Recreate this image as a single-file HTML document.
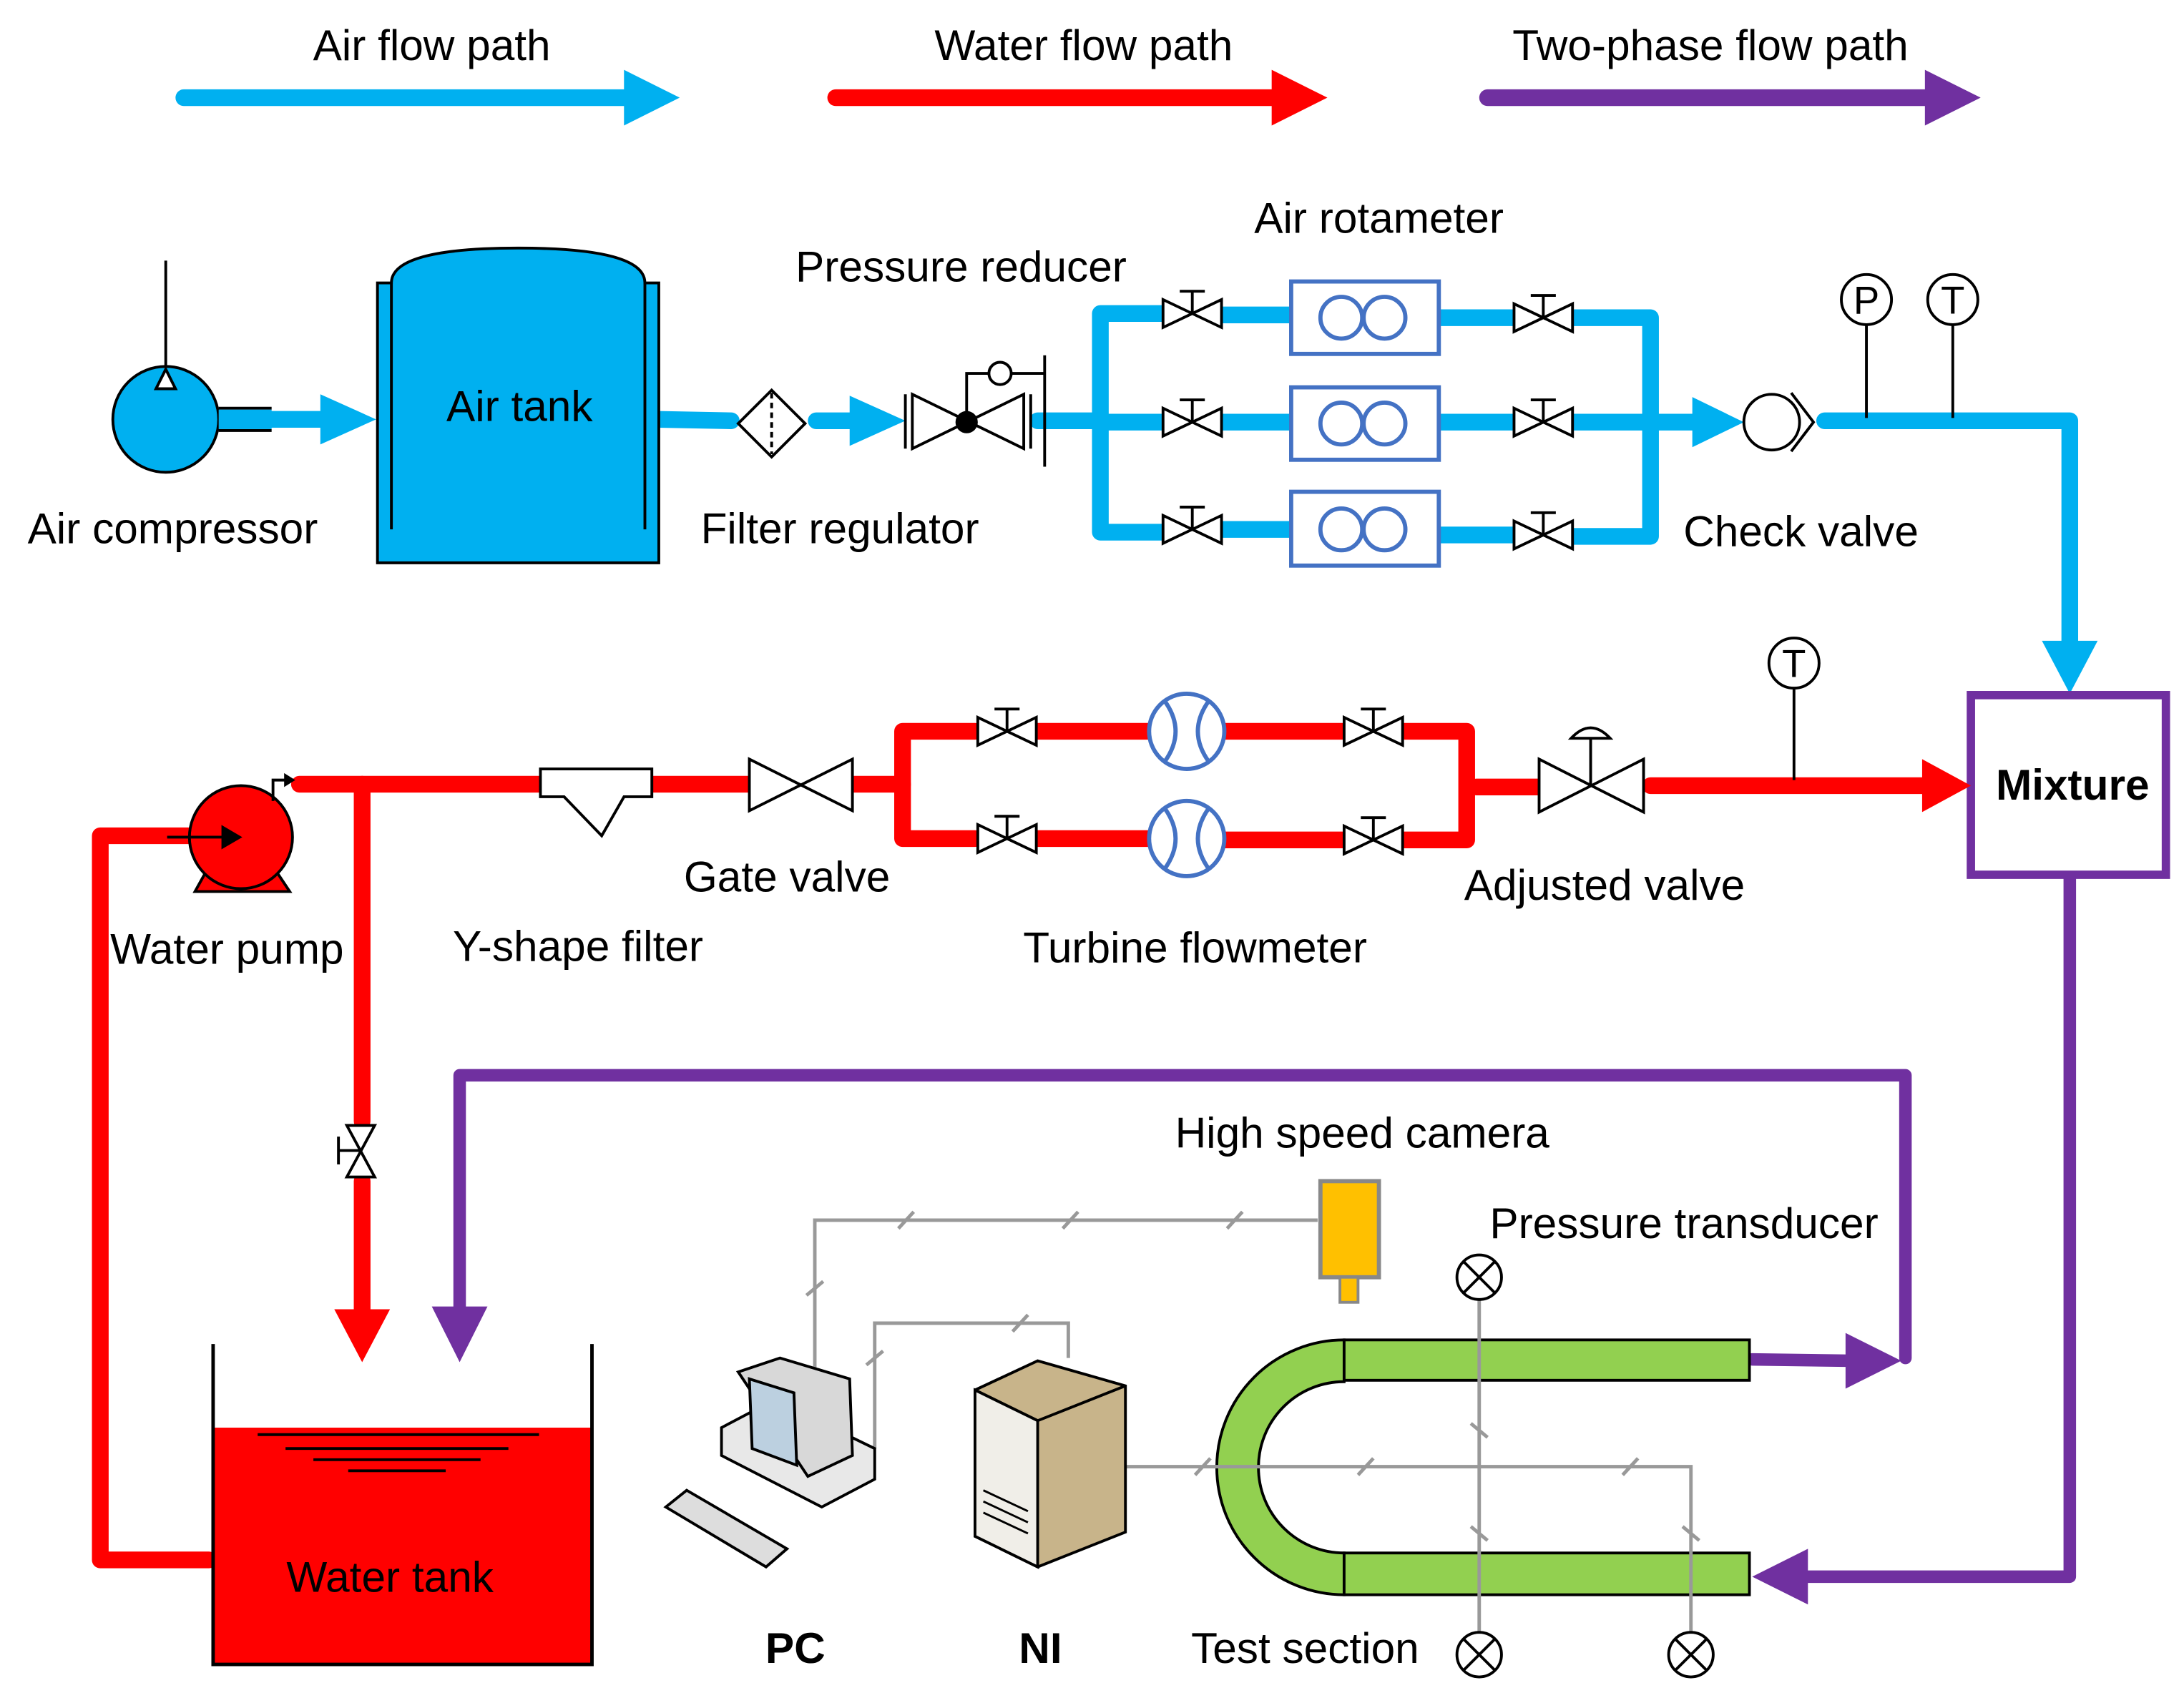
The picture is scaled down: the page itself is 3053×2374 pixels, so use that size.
<!DOCTYPE html>
<html><head><meta charset="utf-8"><style>
html,body{margin:0;padding:0;background:#fff}
svg{display:block}
text{font-family:"Liberation Sans",sans-serif;font-size:31px;fill:#000}
</style></head><body>
<svg width="3053" height="2374" viewBox="0 0 1568 1219" xmlns="http://www.w3.org/2000/svg">
<defs>
<g id="v"><path d="M-21,-10 L21,10 L21,-10 L-21,10 Z" fill="#fff" stroke="#000" stroke-width="2"/><line x1="0" y1="0" x2="0" y2="-16" stroke="#000" stroke-width="2"/><line x1="-9" y1="-16" x2="9" y2="-16" stroke="#000" stroke-width="2"/></g>
<g id="ot"><circle r="16" fill="#fff" stroke="#000" stroke-width="2"/><path d="M-11,-11 L11,11 M11,-11 L-11,11" stroke="#000" stroke-width="2"/></g>
</defs>
<!-- legend -->
<text x="310" y="43" text-anchor="middle">Air flow path</text>
<text x="778" y="43" text-anchor="middle">Water flow path</text>
<text x="1228" y="43" text-anchor="middle">Two-phase flow path</text>
<line x1="132" y1="70" x2="455" y2="70" stroke="#00b0f0" stroke-width="12" stroke-linecap="round"/><path d="M448,50 L488,70 L448,90 Z" fill="#00b0f0"/>
<line x1="600" y1="70" x2="918" y2="70" stroke="#f00" stroke-width="12" stroke-linecap="round"/><path d="M913,50 L953,70 L913,90 Z" fill="#f00"/>
<line x1="1068" y1="70" x2="1388" y2="70" stroke="#7030a0" stroke-width="12" stroke-linecap="round"/><path d="M1382,50 L1422,70 L1382,90 Z" fill="#7030a0"/>

<!-- air -->
<g stroke="#00b0f0" stroke-width="12" fill="none" stroke-linecap="round" stroke-linejoin="round">
<line x1="195" y1="301" x2="235" y2="301"/>
<line x1="473" y1="301" x2="525" y2="302"/>
<line x1="586" y1="302" x2="615" y2="302"/>
<line x1="745" y1="302" x2="790" y2="302"/>
<path d="M840,225 H790 V382 H840"/><line x1="790" y1="303" x2="840" y2="303"/>
<line x1="874" y1="226" x2="927" y2="226"/><line x1="874" y1="303" x2="927" y2="303"/><line x1="874" y1="380" x2="927" y2="380"/>
<line x1="1033" y1="228" x2="1090" y2="228"/><line x1="1033" y1="303" x2="1090" y2="303"/><line x1="1033" y1="384" x2="1090" y2="384"/>
<path d="M1126,228 H1185 V385 H1126"/><line x1="1126" y1="303" x2="1220" y2="303"/>
<path d="M1310,302 H1486 V465"/>
</g>
<path d="M230,283 L270,301 L230,319 Z" fill="#00b0f0"/>
<path d="M610,284 L650,302 L610,320 Z" fill="#00b0f0"/>
<path d="M1215,285 L1252,303 L1215,321 Z" fill="#00b0f0"/>
<path d="M1466,460 L1486,498 L1506,460 Z" fill="#00b0f0"/>
<!-- compressor -->
<line x1="119" y1="187" x2="119" y2="265" stroke="#000" stroke-width="2"/>
<circle cx="119" cy="301" r="38" fill="#00b0f0" stroke="#000" stroke-width="2"/>
<path d="M112,279 L119,265 L126,279 Z" fill="#fff" stroke="#000" stroke-width="2"/>
<path d="M157,293 H195 M157,309 H195" stroke="#000" stroke-width="2"/>
<rect x="157" y="294" width="38" height="14" fill="#00b0f0"/>
<text x="124" y="390" text-anchor="middle">Air compressor</text>
<!-- tank -->
<path d="M271,203 H281 Q281,178 372,178 Q463,178 463,203 H473 V404 H271 Z" fill="#00b0f0" stroke="#000" stroke-width="2"/>
<path d="M281,203 V380 M463,203 V380" stroke="#000" stroke-width="2"/>
<text x="373" y="302" text-anchor="middle">Air tank</text>
<!-- filter -->
<path d="M554,280 L578,304 L554,328 L530,304 Z" fill="#fff" stroke="#000" stroke-width="2"/>
<line x1="554" y1="282" x2="554" y2="326" stroke="#000" stroke-width="2" stroke-dasharray="4,3"/>
<text x="603" y="390" text-anchor="middle">Filter regulator</text>
<!-- reducer -->
<path d="M655,283 L735,322 L735,283 L655,322 Z" fill="#fff" stroke="#000" stroke-width="2"/>
<path d="M650,283 V322 M740,283 V322" stroke="#000" stroke-width="2"/>
<circle cx="694" cy="303" r="8" fill="#000"/>
<path d="M694,303 V268 H710 M726,268 H750 M750,255 V335" stroke="#000" stroke-width="2" fill="none"/>
<circle cx="718" cy="268" r="8" fill="#fff" stroke="#000" stroke-width="2"/>
<text x="690" y="202" text-anchor="middle">Pressure reducer</text>
<!-- valves and rotameters -->
<use href="#v" x="856" y="225"/><use href="#v" x="856" y="303"/><use href="#v" x="856" y="380"/>
<use href="#v" x="1108" y="228"/><use href="#v" x="1108" y="303"/><use href="#v" x="1108" y="384"/>
<g fill="#fff" stroke="#4472c4" stroke-width="3">
<rect x="927" y="202" width="106" height="52"/><rect x="927" y="278" width="106" height="52"/><rect x="927" y="353" width="106" height="53"/>
<circle cx="963" cy="228" r="15"/><circle cx="994" cy="228" r="15"/>
<circle cx="963" cy="304" r="15"/><circle cx="994" cy="304" r="15"/>
<circle cx="963" cy="380" r="15"/><circle cx="994" cy="380" r="15"/>
</g>
<text x="990" y="167" text-anchor="middle">Air rotameter</text>
<!-- check valve -->
<circle cx="1272" cy="303" r="20" fill="#fff" stroke="#000" stroke-width="2"/>
<path d="M1286,282 L1302,303 L1286,324" fill="none" stroke="#000" stroke-width="2"/>
<text x="1293" y="392" text-anchor="middle">Check valve</text>
<path d="M1340,233 V300 M1402,233 V300" stroke="#000" stroke-width="2"/>
<circle cx="1340" cy="215" r="18" fill="#fff" stroke="#000" stroke-width="2"/><text x="1340" y="225" text-anchor="middle" style="font-size:28px">P</text>
<circle cx="1402" cy="215" r="18" fill="#fff" stroke="#000" stroke-width="2"/><text x="1402" y="225" text-anchor="middle" style="font-size:28px">T</text>

<!-- mixture -->
<rect x="1415" y="499" width="140" height="129" fill="#fff" stroke="#7030a0" stroke-width="6"/>
<text x="1488" y="574" text-anchor="middle" font-weight="bold">Mixture</text>

<!-- water -->
<g stroke="#f00" stroke-width="12" fill="none" stroke-linecap="round" stroke-linejoin="round">
<line x1="1185" y1="564" x2="1385" y2="564"/>
<line x1="1060" y1="565" x2="1105" y2="565"/>
<path d="M1005,525 H1053 V603 H1005"/>
<path d="M700,525 H648 V602 H700"/>
<line x1="745" y1="525" x2="825" y2="525"/><line x1="878" y1="525" x2="965" y2="525"/>
<line x1="745" y1="602" x2="825" y2="602"/><line x1="878" y1="603" x2="965" y2="603"/>
<line x1="612" y1="563" x2="648" y2="563"/>
<line x1="468" y1="563" x2="538" y2="563"/>
<line x1="215" y1="563" x2="388" y2="563"/>
<path d="M260,563 V805 M260,848 V945"/>
<path d="M150,1120 H72 V600 H135"/>
</g>
<path d="M1380,545 L1415,564 L1380,583 Z" fill="#f00"/>
<path d="M240,940 L260,978 L280,940 Z" fill="#f00"/>
<use href="#v" x="723" y="525"/><use href="#v" x="723" y="602"/>
<use href="#v" x="986" y="525"/><use href="#v" x="986" y="603"/>
<g fill="#fff" stroke="#4472c4" stroke-width="3">
<circle cx="852" cy="525" r="27"/><circle cx="852" cy="602" r="27"/>
<path d="M836,503 Q852,525 836,547 M868,503 Q852,525 868,547"/>
<path d="M836,580 Q852,602 836,624 M868,580 Q852,602 868,624"/>
</g>
<text x="858" y="691" text-anchor="middle">Turbine flowmeter</text>
<!-- adjusted valve -->
<path d="M1105,545 L1180,583 L1180,545 L1105,583 Z" fill="#fff" stroke="#000" stroke-width="2"/>
<path d="M1142,564 V530 M1128,530 Q1142,515 1156,530 Z" fill="#fff" stroke="#000" stroke-width="2"/>
<text x="1152" y="646" text-anchor="middle">Adjusted valve</text>
<line x1="1288" y1="494" x2="1288" y2="560" stroke="#000" stroke-width="2"/>
<circle cx="1288" cy="476" r="18" fill="#fff" stroke="#000" stroke-width="2"/><text x="1288" y="486" text-anchor="middle" style="font-size:28px">T</text>
<!-- gate valve -->
<path d="M538,545 L612,582 L612,545 L538,582 Z" fill="#fff" stroke="#000" stroke-width="2"/>
<text x="565" y="640" text-anchor="middle">Gate valve</text>
<!-- Y filter -->
<path d="M388,552 H468 V572 L448,572 L432,600 L405,572 L388,572 Z" fill="#fff" stroke="#000" stroke-width="2"/>
<text x="415" y="690" text-anchor="middle">Y-shape filter</text>
<!-- pump -->
<path d="M140,640 L150,622 L196,622 L208,640 Z" fill="#f00" stroke="#000" stroke-width="2"/>
<circle cx="173" cy="601" r="37" fill="#f00" stroke="#000" stroke-width="2"/>
<path d="M120,601 H168 M160,594 L172,601 L160,608 Z" stroke="#000" stroke-width="2" fill="#000"/>
<path d="M196,575 V560 H208" stroke="#000" stroke-width="2" fill="none"/><path d="M204,555 L212,560 L204,565 Z" fill="#000"/>
<text x="163" y="692" text-anchor="middle">Water pump</text>
<!-- vertical valve -->
<path d="M249,808 L269,845 L249,845 L269,808 Z" fill="#fff" stroke="#000" stroke-width="2"/>
<path d="M259,826 H243 M243,816 V836" stroke="#000" stroke-width="2"/>
<!-- water tank -->
<rect x="153" y="1025" width="272" height="170" fill="#f00"/>
<path d="M153,965 V1195 H425 V965" fill="none" stroke="#000" stroke-width="2.5"/>
<path d="M185,1030 H387 M205,1040 H365 M225,1048 H345 M250,1056 H320" stroke="#000" stroke-width="2"/>
<text x="280" y="1143" text-anchor="middle">Water tank</text>

<!-- purple -->
<g stroke="#7030a0" stroke-width="9" fill="none" stroke-linejoin="round" stroke-linecap="round">
<path d="M1368,975 V772 H330 V942"/>
<path d="M1486,630 V1132 H1295"/>
<path d="M1258,976 L1330,977"/>
</g>
<path d="M310,938 L330,978 L350,938 Z" fill="#7030a0"/>
<path d="M1298,1112 L1258,1132 L1298,1152 Z" fill="#7030a0"/>
<path d="M1325,957 L1365,977 L1325,997 Z" fill="#7030a0"/>

<!-- test section -->
<path d="M965,962 A91,91 0 0 0 965,1145 L965,1115 A61,61 0 0 1 965,992 Z" fill="#92d050" stroke="#000" stroke-width="2"/>
<rect x="965" y="962" width="291" height="29" fill="#92d050" stroke="#000" stroke-width="2"/>
<rect x="965" y="1115" width="291" height="30" fill="#92d050" stroke="#000" stroke-width="2"/>
<text x="937" y="1194" text-anchor="middle">Test section</text>
<!-- gray signal lines -->
<g stroke="#999" stroke-width="2.5" fill="none">
<path d="M946,876 H585 V985"/>
<path d="M628,1040 V950 H767 V975"/>
<path d="M808,1053 H1214 V1172"/>
<path d="M1062,933 V1172"/>
<path d="M645,882 L656,870 M763,882 L774,870 M881,882 L892,870 M579,930 L591,920 M622,980 L634,970 M727,956 L738,944 M858,1059 L869,1047 M975,1059 L986,1047 M1165,1059 L1176,1047 M1056,1022 L1068,1032 M1056,1096 L1068,1106 M1208,1096 L1220,1106"/>
</g>
<use href="#ot" x="1062" y="917"/><use href="#ot" x="1062" y="1188"/><use href="#ot" x="1214" y="1188"/>
<text x="1209" y="889" text-anchor="middle">Pressure transducer</text>
<!-- camera -->
<rect x="948" y="848" width="42" height="69" fill="#ffc000" stroke="#888" stroke-width="3"/>
<rect x="962" y="917" width="13" height="18" fill="#ffc000" stroke="#888" stroke-width="2"/>
<text x="978" y="824" text-anchor="middle">High speed camera</text>
<!-- PC -->
<g stroke="#000" stroke-width="2">
<path d="M518,1045 L590,1082 L628,1062 L628,1040 L556,1005 L518,1025 Z" fill="#e8e8e8"/>
<path d="M530,985 L580,1060 L612,1045 L610,990 L560,975 Z" fill="#d8d8d8"/>
<path d="M538,990 L570,1000 L572,1052 L540,1040 Z" fill="#bcd0e0"/>
<path d="M478,1082 L550,1125 L565,1112 L493,1070 Z" fill="#ddd"/>
</g>
<text x="571" y="1194" text-anchor="middle" font-weight="bold">PC</text>
<!-- NI server -->
<path d="M700,998 L745,977 L808,995 L808,1100 L745,1125 L700,1103 Z" fill="#c8b48a" stroke="#000" stroke-width="2"/>
<path d="M700,998 L745,1020 L808,995 M745,1020 V1125" fill="none" stroke="#000" stroke-width="2"/>
<path d="M700,998 L745,1020 V1125 L700,1103 Z" fill="#f0eee8" stroke="#000" stroke-width="2"/>
<path d="M706,1070 L738,1085 M706,1078 L738,1093 M706,1086 L738,1101" stroke="#000" stroke-width="1.5"/>
<text x="747" y="1194" text-anchor="middle" font-weight="bold">NI</text>
</svg>
</body></html>
